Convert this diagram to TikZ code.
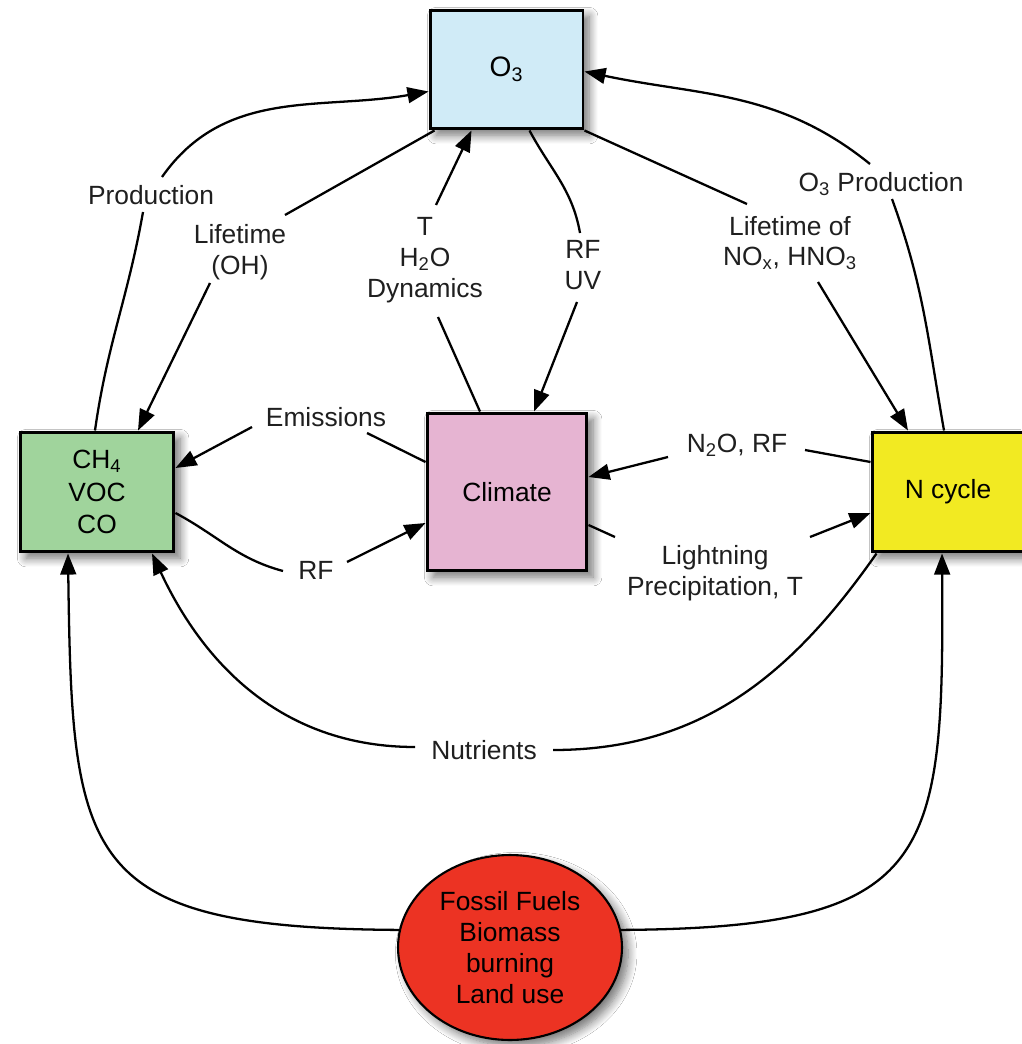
\documentclass[tikz,border=0pt]{standalone}
\usepackage{fontspec}
\setmainfont{Liberation Sans}
\usetikzlibrary{arrows.meta,shapes.geometric,shadows.blur,calc}
\definecolor{o3c}{RGB}{208,235,247}
\definecolor{ch4c}{RGB}{160,212,156}
\definecolor{climc}{RGB}{230,180,210}
\definecolor{ncycc}{RGB}{242,234,34}
\definecolor{fossc}{RGB}{236,51,35}
\begin{document}
\begin{tikzpicture}[x=0.02cm,y=0.02cm,
  font=\fontsize{15}{17.5}\selectfont,
  shad/.style={blur shadow={shadow xshift=3.5pt,shadow yshift=-3.5pt,shadow blur steps=10,shadow blur radius=5pt,shadow opacity=55}},
  box/.style={draw=black,line width=1.7pt,rectangle,align=center,inner sep=0pt,shad},
  lbl/.style={align=center,inner sep=0pt,text=black!88},
  con/.style={line width=1.3pt,black},
  arr/.style={con,-{Triangle[length=12pt,width=9pt]}}]
\useasboundingbox (0,0) rectangle (1021,-1044);
\fill[white] (0,0) rectangle (1021,-1044);

% main nodes
\node[box,fill=o3c,minimum width=3.06cm,minimum height=2.38cm] (o3) at (506.5,-69.5) {\fontsize{16}{18}\selectfont O\textsubscript{3}};
\node[box,fill=ch4c,minimum width=3.08cm,minimum height=2.4cm] (ch4) at (97,-492) {CH\textsubscript{4}\\[1pt]VOC\\[1pt]CO};
\node[box,fill=climc,minimum width=3.2cm,minimum height=3.16cm] (clim) at (507,-492) {Climate};
\node[box,fill=ncycc,minimum width=3.04cm,minimum height=2.4cm] (ncyc) at (948,-492) {N cycle};
\node[ellipse,draw=black,line width=1.2pt,fill=fossc,minimum width=4.48cm,minimum height=3.7cm,inner sep=0pt,align=center,shad] (fossil) at (510,-947.5)
  {Fossil Fuels\\Biomass\\burning\\Land use};

% labels
\node[lbl] (prodL) at (151,-195) {Production};
\node[lbl] (lifeOH) at (240,-252) {Lifetime\\(OH)};
\node[lbl] (tdyn) at (425,-260) {T\\H\textsubscript{2}O\\Dynamics};
\node[lbl] (rfuv) at (583,-265) {RF\\UV};
\node[lbl] (lifeNO) at (790,-243) {Lifetime of\\NO\textsubscript{x}, HNO\textsubscript{3}};
\node[lbl] (o3prod) at (881,-184) {O\textsubscript{3} Production};
\node[lbl] (emis) at (326,-417) {Emissions};
\node[lbl] (n2o) at (737,-445) {N\textsubscript{2}O, RF};
\node[lbl] (rfL) at (316,-570) {RF};
\node[lbl] (light) at (715,-573) {Lightning\\Precipitation, T};
\node[lbl] (nutr) at (484,-750) {Nutrients};

% Production
\draw[con] ($(ch4.north)+(-2,0)$) to[out=82,in=-100] ($(prodL)+(-8,-17)$);
\draw[arr] ($(prodL)+(11,18)$) to[out=55,in=190] ($(o3.west)+(0,-22)$);
% Lifetime (OH)
\draw[con] ($(o3.south west)+(6,0)$) -- ($(lifeOH)+(45,37)$);
\draw[arr] ($(lifeOH)+(-30,-31)$) -- ($(ch4.north)+(41,0)$);
% T H2O Dynamics
\draw[con] ($(clim.north)+(-27,0)$) -- ($(tdyn)+(13,-57)$);
\draw[arr] ($(tdyn)+(11,55)$) -- ($(o3.south)+(-35,0)$);
% RF UV
\draw[con] ($(o3.south)+(23,0)$) to[out=-62,in=100] ($(rfuv)+(-3,32)$);
\draw[arr] ($(rfuv)+(-6,-37)$) -- ($(clim.north)+(27,0)$);
% Lifetime of NOx
\draw[con] (o3.south east) -- ($(lifeNO)+(-43,39)$);
\draw[arr] ($(lifeNO)+(28,-39)$) -- ($(ncyc.north)+(-40,0)$);
% O3 Production
\draw[con] ($(ncyc.north)+(-4,0)$) to[out=100,in=-70] ($(o3prod)+(11,-15)$);
\draw[arr] ($(o3prod)+(-11,20)$) to[out=141,in=-12] ($(o3.east)+(0,-2)$);
% Emissions
\draw[con] ($(clim.west)+(0,30)$) -- ($(emis)+(41,-16)$);
\draw[arr] ($(emis)+(-74,-10)$) -- ($(ch4.east)+(0,24)$);
% RF (left)
\draw[con] ($(ch4.east)+(0,-21)$) to[out=-28,in=165] ($(rfL)+(-33,-1)$);
\draw[arr] ($(rfL)+(31,8)$) -- ($(clim.west)+(0,-31)$);
% N2O, RF
\draw[con] ($(ncyc.west)+(0,30)$) -- ($(n2o)+(68,-5)$);
\draw[arr] ($(n2o)+(-69,-12)$) -- ($(clim.east)+(0,15)$);
% Lightning
\draw[con] ($(clim.east)+(0,-33)$) -- ($(light)+(-100,36)$);
\draw[arr] ($(light)+(95,36)$) -- ($(ncyc.west)+(0,-21)$);
% Nutrients
\draw[con] ($(ncyc.south west)+(6,0)$) to[out=-125,in=0] ($(nutr)+(69,0)$);
\draw[arr] ($(nutr)+(-69,3)$) to[out=180,in=-65] ($(ch4.south)+(55,0)$);
% Fossil fuels
\draw[arr] (fossil.171) .. controls (80,-928) and (72,-860) .. ($(ch4.south)+(-29,0)$);
\draw[arr] (fossil.9) .. controls (935,-928) and (944,-860) .. ($(ncyc.south)+(-6,0)$);
\end{tikzpicture}
\end{document}
